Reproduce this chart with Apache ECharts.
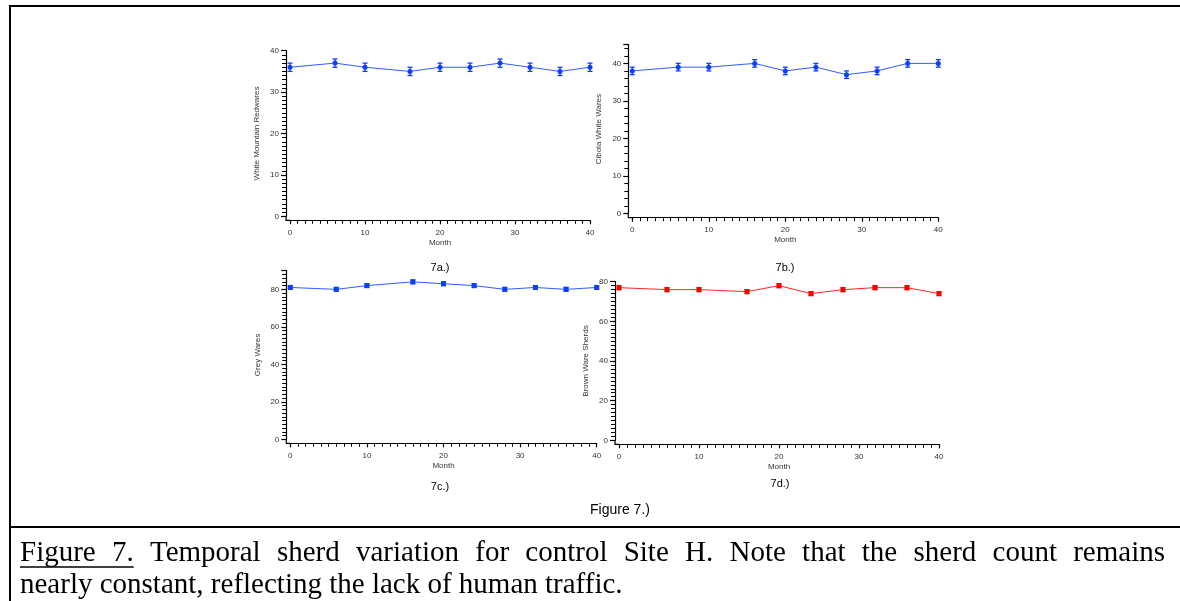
<!DOCTYPE html>
<html>
<head>
<meta charset="utf-8">
<script src="https://cdn.jsdelivr.net/npm/echarts@6/dist/echarts.min.js"></script>
<style>
html,body{margin:0;padding:0;background:#fff;}
#chart{width:1180px;height:601px;}
</style>
</head>
<body>
<div id="chart"></div>
<script>
// ---- data ----
const months = [0, 6, 10, 16, 20, 24, 28, 32, 36, 40];
const whiteMountain = [36, 37, 36, 35, 36, 36, 37, 36, 35, 36];
const whiteMountainErr = [1, 1, 1, 1, 1, 1, 1, 1, 1, 1];
const cibola = [38, 39, 39, 40, 38, 39, 37, 38, 40, 40];
const cibolaErr = [1, 1, 1, 1, 1, 1, 1, 1, 1, 1];
const grey = [81, 80, 82, 84, 83, 82, 80, 81, 80, 81];
const greyErr = [1, 1, 1, 1, 1, 1, 1, 1, 1, 1];
const brown = [77, 76, 76, 75, 78, 74, 76, 77, 77, 74];
const brownErr = [1, 1, 1, 1, 1, 1, 1, 1, 1, 1];
const yNames = ['White Mountain Redwares', 'Cibola White Wares', 'Grey Wares', 'Brown Ware Sherds'];
const panelLabels = ['7a.)', '7b.)', '7c.)', '7d.)'];
const figureLabel = 'Figure 7.)';
const captionLead = 'Figure 7.';
const captionLine1 = 'Figure 7. Temporal sherd variation for control Site H. Note that the sherd count remains';
const captionLine2 = 'nearly constant, reflecting the lack of human traffic.';

const BLUE = '#0d3fff';
const RED = '#ff0000';
const AX = '#000';
const LBL = '#333';
const SANS = 'Liberation Sans, Arial, sans-serif';
const SERIF = 'Liberation Serif, Times New Roman, serif';

const panels = [
  {vals: whiteMountain, err: whiteMountainErr, color: BLUE, symbol: 'circle', size: 5,
   grid: {left: 290, top: 50.7, width: 300, height: 165.6}, ymax: 40, yint: 10, ysplit: 10, nameGap: 25},
  {vals: cibola, err: cibolaErr, color: BLUE, symbol: 'circle', size: 5,
   grid: {left: 632.3, top: 44.6, width: 306, height: 169.1}, ymax: 45, yint: 10, ysplit: 5, nameGap: 26},
  {vals: grey, err: greyErr, color: BLUE, symbol: 'rect', size: 5,
   grid: {left: 290.3, top: 270.6, width: 306.4, height: 168.7}, ymax: 90, yint: 20, ysplit: 10, nameGap: 25},
  {vals: brown, err: brownErr, color: RED, symbol: 'rect', size: 5,
   grid: {left: 619, top: 281.7, width: 320, height: 158.6}, ymax: 80, yint: 20, ysplit: 10, nameGap: 25}
];
const OFF = 4;

function errRender(color) {
  return function (params, api) {
    const x = api.value(0), lo = api.value(1), hi = api.value(2);
    const a = api.coord([x, lo]), b = api.coord([x, hi]);
    const w = 2.5;
    const st = {stroke: color, lineWidth: 1.3};
    return {type: 'group', children: [
      {type: 'line', shape: {x1: a[0], y1: a[1], x2: b[0], y2: b[1]}, style: st},
      {type: 'line', shape: {x1: a[0] - w, y1: a[1], x2: a[0] + w, y2: a[1]}, style: st},
      {type: 'line', shape: {x1: b[0] - w, y1: b[1], x2: b[0] + w, y2: b[1]}, style: st}
    ]};
  };
}

const grids = [], xAxes = [], yAxes = [], series = [];
panels.forEach((p, i) => {
  grids.push(Object.assign({containLabel: false}, p.grid));
  xAxes.push({
    type: 'value', gridIndex: i, min: 0, max: 40, interval: 10, offset: OFF,
    name: 'Month', nameLocation: 'middle', nameGap: 18,
    nameTextStyle: {fontSize: 8, color: LBL, fontFamily: SANS},
    axisLine: {show: true, onZero: false, lineStyle: {color: AX, width: 1.2}},
    axisTick: {show: true, inside: false, length: 4, lineStyle: {color: AX, width: 1.2}},
    minorTick: {show: true, splitNumber: 10, length: 3.5, lineStyle: {color: AX, width: 1}},
    axisLabel: {fontSize: 8, color: LBL, margin: 8, fontFamily: SANS},
    splitLine: {show: false}, minorSplitLine: {show: false}
  });
  yAxes.push({
    type: 'value', gridIndex: i, min: 0, max: p.ymax, interval: p.yint, offset: OFF,
    name: yNames[i], nameLocation: 'middle', nameGap: p.nameGap, nameRotate: 90,
    nameTextStyle: {fontSize: 8, color: LBL, fontFamily: SANS},
    axisLine: {show: true, onZero: false, lineStyle: {color: AX, width: 1.2}},
    axisTick: {show: true, inside: false, length: 5, lineStyle: {color: AX, width: 1.2}},
    minorTick: {show: true, splitNumber: p.ysplit, length: 4, lineStyle: {color: AX, width: 1}},
    axisLabel: {fontSize: 8, color: LBL, margin: 7, fontFamily: SANS, showMaxLabel: p.ymax % p.yint === 0},
    splitLine: {show: false}, minorSplitLine: {show: false}
  });
  series.push({
    type: 'line', xAxisIndex: i, yAxisIndex: i,
    data: months.map((m, k) => [m, p.vals[k]]),
    symbol: p.symbol, symbolSize: p.size, showSymbol: true,
    lineStyle: {color: p.color, width: 1, opacity: 0.85},
    itemStyle: {color: p.color},
    animation: false, z: 3
  });
  series.push({
    type: 'custom', xAxisIndex: i, yAxisIndex: i,
    data: months.map((m, k) => [m, p.vals[k] - p.err[k], p.vals[k] + p.err[k]]),
    encode: {x: 0, y: [1, 2]},
    renderItem: errRender(p.color), animation: false, z: 4
  });
});

// ---- caption layout (first line justified between the margins) ----
const capFont = 29;
const cv = document.createElement('canvas').getContext('2d');
cv.font = capFont + 'px ' + SERIF;
const capLeft = 20, capRight = 1165;
const natW = cv.measureText(captionLine1).width;
const nSpaces = (captionLine1.match(/ /g) || []).length;
const extra = (capRight - capLeft - natW) / nSpaces;
const capGraphics = [];
const re = /\S+/g;
let mt;
function xAt(idx) {
  const prefix = captionLine1.slice(0, idx);
  const sp = (prefix.match(/ /g) || []).length;
  return capLeft + cv.measureText(prefix).width + extra * sp;
}
while ((mt = re.exec(captionLine1)) !== null) {
  capGraphics.push({type: 'text', x: xAt(mt.index), y: 553,
    style: {text: mt[0], fontSize: capFont, fontFamily: SERIF, fill: '#000', align: 'left', verticalAlign: 'middle'}});
}
const leadEnd = xAt(captionLead.length);

const labelPos = [[440, 268], [785, 268], [440, 487], [780, 484]];
const graphics = [
  {type: 'line', shape: {x1: 10, y1: 6, x2: 1180, y2: 6}, style: {stroke: '#000', lineWidth: 2}},
  {type: 'line', shape: {x1: 10, y1: 5, x2: 10, y2: 601}, style: {stroke: '#000', lineWidth: 2}},
  {type: 'line', shape: {x1: 10, y1: 527, x2: 1180, y2: 527}, style: {stroke: '#000', lineWidth: 2}},
  {type: 'text', x: 620, y: 510, style: {text: figureLabel, fontSize: 14, fontFamily: SANS, fill: '#000', align: 'center', verticalAlign: 'middle'}},
  {type: 'line', shape: {x1: capLeft, y1: 567, x2: leadEnd, y2: 567}, style: {stroke: '#000', lineWidth: 1.5}},
  {type: 'text', x: capLeft, y: 585, style: {text: captionLine2, fontSize: capFont, fontFamily: SERIF, fill: '#000', align: 'left', verticalAlign: 'middle'}}
].concat(capGraphics);
panelLabels.forEach((t, i) => {
  graphics.push({type: 'text', x: labelPos[i][0], y: labelPos[i][1],
    style: {text: t, fontSize: 11, fontFamily: SANS, fill: '#000', align: 'center', verticalAlign: 'middle'}});
});

const chart = echarts.init(document.getElementById('chart'), null, {renderer: 'canvas'});
chart.setOption({
  animation: false,
  backgroundColor: '#fff',
  grid: grids, xAxis: xAxes, yAxis: yAxes, series: series,
  graphic: graphics
});

// join the offset axis lines at each panel's corner, using the library's scales
const corners = [];
panels.forEach((p, i) => {
  const o = chart.convertToPixel({gridIndex: i}, [0, 0]);
  const cx = o[0] - OFF, cy = o[1] + OFF;
  corners.push({type: 'polyline', shape: {points: [[cx, o[1]], [cx, cy], [o[0], cy]]},
    style: {stroke: AX, lineWidth: 1.2, fill: null}, z: 10});
});
chart.setOption({graphic: graphics.concat(corners)});
</script>
</body>
</html>
